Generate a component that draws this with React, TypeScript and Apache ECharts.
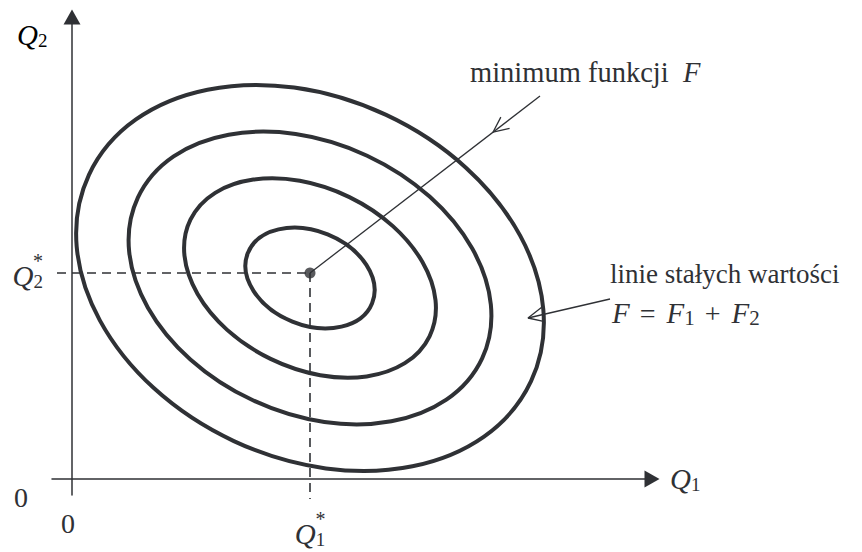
import React, { useEffect, useRef } from 'react';
import * as echarts from 'echarts';

// ---- values (chart units: 1 unit ≈ 20 px on both axes) ----
const Q1_STAR = 11.9;
const Q2_STAR = 10.3;
const X_LABEL_VALUES = [0, Q1_STAR];
const Y_LABEL_VALUES = [0, Q2_STAR];
const MINIMUM_POINT = [Q1_STAR, Q2_STAR];
const CONTOUR_CENTER = [11.9, 10.05];
const CONTOUR_SEMI_MAJOR = [12.2, 9.5, 6.65, 3.35];
const CONTOUR_SEMI_MINOR = [9.0, 6.75, 4.5, 2.35];
const CONTOUR_TILT_DEG = [-25, -25, -26, -22];
const DASH_H = [[-0.75, Q2_STAR], [Q1_STAR, Q2_STAR]];
const DASH_V = [[Q1_STAR, Q2_STAR], [Q1_STAR, -1.0]];
// pointer from "minimum funkcji F" down to the minimum; arrowhead sits at ARROW_TIP_MIN
const POINTER_MIN_START = [23.4, 19.15];
const ARROW_TIP_MIN = [21.05, 17.34];
// pointer from "F = F1 + F2" to the outer contour line
const POINTER_CONTOUR_START = [26.9, 9.0];
const ARROW_TIP_CONTOUR = [22.8, 8.05];
const ARROW_LEN = 0.85;
const ARROW_HALF_ANGLE = 25;
const TEXT_MIN = 'minimum funkcji';
const TEXT_LINES = 'linie stałych wartości';

const INK = '#2f3135';
const FONT = '"Liberation Serif", "DejaVu Serif", serif';

// open arrowhead: two short strokes from the tip, back along the pointer line
function openHead(from: number[], tip: number[]) {
  const dx = from[0] - tip[0];
  const dy = from[1] - tip[1];
  const base = Math.atan2(dy, dx);
  const h = (ARROW_HALF_ANGLE * Math.PI) / 180;
  const w = (a: number) => [tip[0] + ARROW_LEN * Math.cos(a), tip[1] + ARROW_LEN * Math.sin(a)];
  return [w(base + h), tip, w(base - h)];
}

const qRich = {
  q: { fontFamily: FONT, fontStyle: 'italic', fontSize: 29, lineHeight: 30, color: INK },
  s: { fontFamily: FONT, fontSize: 19, lineHeight: 14, verticalAlign: 'bottom', color: INK },
  g: { width: 21, lineHeight: 1 },
  st: { fontFamily: FONT, fontSize: 20, lineHeight: 1, color: INK },
};

const thinLine = { color: INK, width: 1.3 };

export default function App() {
  const ref = useRef<HTMLDivElement>(null);
  useEffect(() => {
    if (!ref.current) return;
    const chart = echarts.init(ref.current, null, { renderer: 'svg' });
    const contourRows = CONTOUR_SEMI_MAJOR.map((a, i) => [
      CONTOUR_CENTER[0], CONTOUR_CENTER[1], a, CONTOUR_SEMI_MINOR[i], CONTOUR_TILT_DEG[i],
    ]);
    const option: any = {
      animation: false,
      backgroundColor: '#ffffff',
      grid: { left: 52, right: 210, top: 17, bottom: 57, containLabel: false, outerBoundsMode: 'none' },
      xAxis: {
        type: 'value', min: -1, max: 29,
        axisLine: {
          show: true, onZero: true, symbol: ['none', 'triangle'], symbolSize: [17, 15],
          lineStyle: { color: INK, width: 1.5 },
        },
        axisTick: { show: false },
        splitLine: { show: false },
        axisLabel: {
          customValues: X_LABEL_VALUES,
          margin: 23,
          formatter: (v: number) => (v === 0 ? '{z|0}' : '{g|}{st|*}\n{q|Q}{s|1}'),
          rich: {
            ...qRich,
            z: { fontFamily: FONT, fontSize: 28, lineHeight: 10, padding: [0, 8, 0, 0], color: INK },
          },
        },
        name: '{q|Q}{s|1}',
        nameLocation: 'end',
        nameGap: 18,
        nameMoveOverlap: false,
        nameTextStyle: { rich: qRich },
      },
      yAxis: {
        type: 'value', min: -0.8, max: 23.1,
        axisLine: {
          show: true, onZero: true, symbol: ['none', 'triangle'], symbolSize: [17, 15],
          lineStyle: { color: INK, width: 1.5 },
        },
        axisTick: { show: false },
        splitLine: { show: false },
        axisLabel: {
          customValues: Y_LABEL_VALUES,
          margin: 9,
          padding: [5, 0, 0, 0],
          formatter: (v: number) => (v === 0 ? '{z|0}' : '{g|}{st|*}\n{q|Q}{s|2}'),
          rich: {
            ...qRich,
            z: { fontFamily: FONT, fontSize: 28, lineHeight: 30, padding: [31, 15, 0, 0], color: INK },
          },
        },
      },
      series: [
        {
          type: 'custom',
          coordinateSystem: 'cartesian2d',
          silent: true,
          encode: { x: 0, y: 1 },
          data: contourRows,
          renderItem: (params: any, api: any) => {
            const c = api.coord([api.value(0), api.value(1)]);
            const s = api.size([api.value(2), api.value(3)]);
            return {
              type: 'ellipse',
              x: c[0], y: c[1],
              rotation: (api.value(4) * Math.PI) / 180,
              shape: { cx: 0, cy: 0, rx: s[0], ry: s[1] },
              style: { fill: 'none', stroke: INK, lineWidth: 4 },
            };
          },
          z: 3,
        },
        {
          type: 'line', data: DASH_H, symbol: 'none', silent: true, clip: false,
          lineStyle: { color: INK, width: 1.6, type: [9, 6] }, z: 2,
        },
        {
          type: 'line', data: DASH_V, symbol: 'none', silent: true, clip: false,
          lineStyle: { color: INK, width: 1.6, type: [9, 6] }, z: 2,
        },
        {
          type: 'line', data: [POINTER_MIN_START, MINIMUM_POINT], symbol: 'none', silent: true,
          clip: false, lineStyle: thinLine, z: 4,
        },
        {
          type: 'line', data: openHead(POINTER_MIN_START, ARROW_TIP_MIN), symbol: 'none', silent: true,
          clip: false, lineStyle: thinLine, z: 4,
        },
        {
          type: 'line', data: [POINTER_CONTOUR_START, ARROW_TIP_CONTOUR], symbol: 'none', silent: true,
          clip: false, lineStyle: thinLine, z: 4,
        },
        {
          type: 'line', data: openHead(POINTER_CONTOUR_START, ARROW_TIP_CONTOUR), symbol: 'none',
          silent: true, clip: false, lineStyle: thinLine, z: 4,
        },
        {
          type: 'scatter', data: [MINIMUM_POINT], symbol: 'circle', symbolSize: 11, silent: true,
          itemStyle: { color: INK }, z: 5,
        },
      ],
      graphic: [
        {
          type: 'text', x: 17, y: 35, silent: true,
          style: { text: '{q|Q}{s|2}', rich: qRich, align: 'left', verticalAlign: 'middle' },
        },
        {
          type: 'text', x: 470, y: 72, silent: true,
          style: {
            text: `${TEXT_MIN}  {i|F}`, font: `28.5px ${FONT}`, fill: INK, lineHeight: 30,
            rich: { i: { fontFamily: FONT, fontStyle: 'italic', fontSize: 28.5, lineHeight: 30, color: INK } },
            align: 'left', verticalAlign: 'middle',
          },
        },
        {
          type: 'text', x: 610, y: 274, silent: true,
          style: { text: TEXT_LINES, font: `27px ${FONT}`, fill: INK, align: 'left', verticalAlign: 'middle' },
        },
        {
          type: 'text', x: 612, y: 313, silent: true,
          style: {
            text: '{i|F}{o|=}{i|F}{s|1}{o|+}{i|F}{s|2}', font: `27px ${FONT}`, fill: INK, lineHeight: 30,
            rich: {
              i: { fontFamily: FONT, fontStyle: 'italic', fontSize: 29, lineHeight: 30, color: INK },
              o: { fontFamily: FONT, fontSize: 28, lineHeight: 30, padding: [0, 11, 0, 10], color: INK },
              s: { fontFamily: FONT, fontSize: 21, lineHeight: 12, verticalAlign: 'bottom', color: INK },
            },
            align: 'left', verticalAlign: 'middle',
          },
        },
      ],
    };
    chart.setOption(option);
    return () => chart.dispose();
  }, []);
  return (
    <div
      ref={ref}
      style={{ position: 'fixed', left: 0, top: 0, width: 862, height: 552, background: '#fff' }}
    />
  );
}
